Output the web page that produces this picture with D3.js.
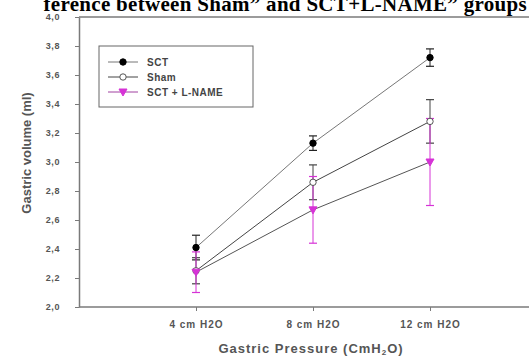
<!DOCTYPE html>
<html>
<head>
<meta charset="utf-8">
<script src="https://d3js.org/d3.v7.min.js"></script>
<style>
  body { margin: 0; background: #fff; }
  svg { display: block; }
</style>
</head>
<body>
<svg id="svg1"></svg>
<script>
var pressures = ["4 cm H2O", "8 cm H2O", "12 cm H2O"];
var yTicks = [2.0, 2.2, 2.4, 2.6, 2.8, 3.0, 3.2, 3.4, 3.6, 3.8, 4.0];

var sctMean = [2.41, 3.13, 3.72];
var sctErr = [0.085, 0.05, 0.06];
var shamMean = [2.25, 2.86, 3.28];
var shamErr = [0.09, 0.12, 0.15];
var lnameMean = [2.24, 2.67, 3.00];
var lnameErr = [0.14, 0.23, 0.30];

var seriesNames = ["SCT", "Sham", "SCT + L-NAME"];

var W = 529, H = 358;
var svg = d3.select("#svg1")
  .attr("width", W)
  .attr("height", H);

// scales - plot area is cropped on the right in the original
var x = d3.scaleLinear().domain([0, 4]).range([79, 547]);
var y = d3.scaleLinear().domain([2, 4]).range([307, 17]);

var axisColor = "#7a7a7a";
var textColor = "#555";
var sans = "Liberation Sans, Arial, sans-serif";

// title (cut off at the top and left in the picture)
svg.append("text")
  .attr("x", 527)
  .attr("y", 11)
  .attr("text-anchor", "end")
  .style("font-family", "Liberation Serif, Times New Roman, serif")
  .style("font-weight", "bold")
  .style("font-size", "21px")
  .style("letter-spacing", "0.3px")
  .text("ference between Sham\u201D and SCT+L-NAME\u201D groups");

// frame lines
svg.append("line")
  .attr("x1", x(0)).attr("x2", W)
  .attr("y1", y(4)).attr("y2", y(4))
  .attr("stroke", axisColor).attr("stroke-width", 1.5);

// Y axis
var yAxis = svg.append("g")
  .attr("transform", "translate(" + x(0) + ",0)")
  .call(d3.axisLeft(y).tickValues(yTicks).tickSize(4).tickSizeOuter(0)
    .tickFormat(function (d) { return d3.format(".1f")(d).replace(".", ","); }));
yAxis.select(".domain").attr("stroke", axisColor).attr("stroke-width", 1.5);
yAxis.selectAll(".tick line").attr("stroke", axisColor);
yAxis.selectAll("text")
  .attr("fill", textColor)
  .attr("x", -19)
  .style("font-family", sans)
  .style("font-weight", "bold")
  .style("font-size", "9px")
  .style("letter-spacing", "0.6px");

// X axis
var xAxis = svg.append("g")
  .attr("transform", "translate(0," + y(2) + ")")
  .call(d3.axisBottom(x).tickValues([1, 2, 3]).tickSize(4).tickSizeOuter(0)
    .tickFormat(function (d) { return pressures[d - 1]; }));
xAxis.select(".domain").attr("stroke", axisColor).attr("stroke-width", 1.5)
  .attr("d", "M" + x(0) + ",0H" + W);
xAxis.selectAll(".tick line").attr("stroke", axisColor);
xAxis.selectAll("text")
  .attr("fill", textColor)
  .attr("y", 14)
  .style("font-family", sans)
  .style("font-weight", "bold")
  .style("font-size", "10px")
  .style("letter-spacing", "1px");

// axis titles
svg.append("text")
  .attr("transform", "translate(31,153) rotate(-90)")
  .attr("text-anchor", "middle")
  .attr("fill", textColor)
  .style("font-family", sans)
  .style("font-weight", "bold")
  .style("font-size", "13px")
  .text("Gastric volume (ml)");

var xt = svg.append("text")
  .attr("x", 311)
  .attr("y", 353)
  .attr("text-anchor", "middle")
  .attr("fill", textColor)
  .style("font-family", sans)
  .style("font-weight", "bold")
  .style("font-size", "13px")
  .style("letter-spacing", "1px");
xt.append("tspan").text("Gastric Pressure (CmH");
xt.append("tspan").attr("dy", 2).style("font-size", "8px").text("2");
xt.append("tspan").attr("dy", -2).text("O)");

var series = [
  { name: seriesNames[0], mean: sctMean, err: sctErr, color: "#000", errColor: "#222", line: "#777", shape: "circle", fill: "#000" },
  { name: seriesNames[1], mean: shamMean, err: shamErr, color: "#555", errColor: "#444", line: "#444", shape: "circle", fill: "#fff" },
  { name: seriesNames[2], mean: lnameMean, err: lnameErr, color: "#d633d6", errColor: "#d633d6", line: "#555", shape: "triangle", fill: "#d633d6" }
];

var line = d3.line()
  .x(function (d, i) { return x(i + 1); })
  .y(function (d) { return y(d); });

// connecting lines
series.forEach(function (s) {
  svg.append("path")
    .datum(s.mean)
    .attr("d", line)
    .attr("fill", "none")
    .attr("stroke", s.line)
    .attr("stroke-width", 1);
});

// error bars
series.forEach(function (s) {
  var g = svg.append("g");
  s.mean.forEach(function (m, i) {
    var cx = x(i + 1);
    g.append("line")
      .attr("x1", cx).attr("x2", cx)
      .attr("y1", y(m - s.err[i])).attr("y2", y(m + s.err[i]))
      .attr("stroke", s.errColor).attr("stroke-width", 1);
    [m - s.err[i], m + s.err[i]].forEach(function (v) {
      g.append("line")
        .attr("x1", cx - 4).attr("x2", cx + 4)
        .attr("y1", y(v)).attr("y2", y(v))
        .attr("stroke", s.errColor).attr("stroke-width", 1.2);
    });
  });
});

function drawMarker(g, s, cx, cy) {
  if (s.shape == "triangle") {
    g.append("path")
      .attr("d", "M" + (cx - 4) + "," + (cy - 3) + "L" + (cx + 4) + "," + (cy - 3) + "L" + cx + "," + (cy + 4) + "Z")
      .attr("fill", s.fill).attr("stroke", s.color);
  } else {
    g.append("circle")
      .attr("cx", cx).attr("cy", cy).attr("r", 3.2)
      .attr("fill", s.fill).attr("stroke", s.color).attr("stroke-width", 1);
  }
}

// markers
series.forEach(function (s) {
  var g = svg.append("g");
  s.mean.forEach(function (m, i) {
    drawMarker(g, s, x(i + 1), y(m));
  });
});

// legend
var lg = svg.append("g");
lg.append("rect")
  .attr("x", 99).attr("y", 46).attr("width", 154).attr("height", 61)
  .attr("fill", "#fff").attr("stroke", "#666").attr("stroke-width", 1);
series.forEach(function (s, i) {
  var ly = 62 + i * 15;
  lg.append("line")
    .attr("x1", 108).attr("x2", 138).attr("y1", ly).attr("y2", ly)
    .attr("stroke", i == 2 ? "#a040a0" : s.line).attr("stroke-width", 1);
  drawMarker(lg, s, 123, ly);
  lg.append("text")
    .attr("x", 147).attr("y", ly + 3.5)
    .attr("fill", "#444")
    .style("font-family", sans)
    .style("font-weight", "bold")
    .style("font-size", "10px")
    .style("letter-spacing", "0.5px")
    .text(s.name);
});
</script>
</body>
</html>
